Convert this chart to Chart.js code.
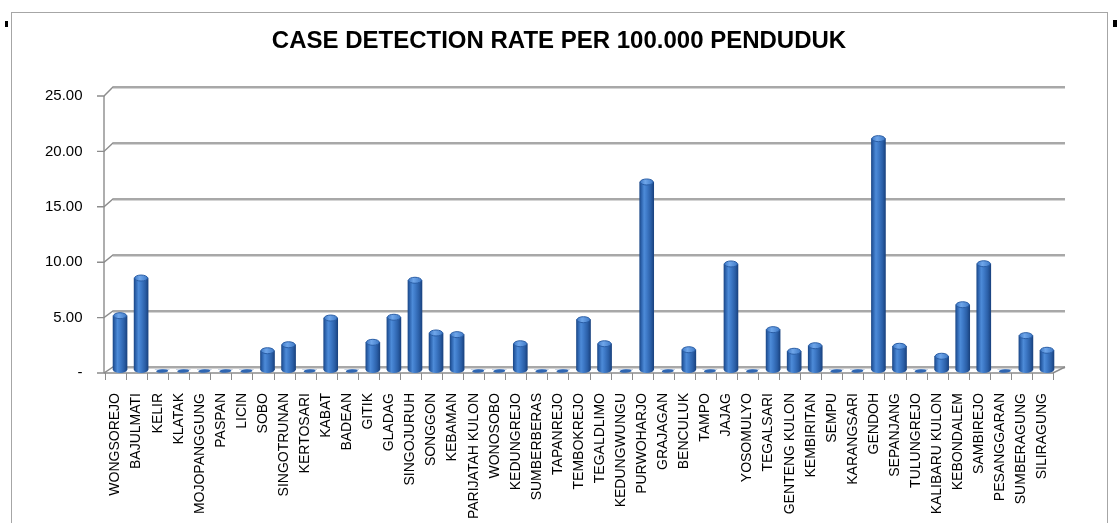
<!DOCTYPE html>
<html>
<head>
<meta charset="utf-8">
<script src="https://cdn.jsdelivr.net/npm/chart.js@4.4.1/dist/chart.umd.min.js"></script>
<style>
  html, body { margin: 0; padding: 0; background: #ffffff; }
  #wrap { position: relative; width: 1118px; height: 523px; }
</style>
</head>
<body>
<div id="wrap"><canvas id="c" width="1118" height="523"></canvas></div>
<script>
const chartTitle = 'CASE DETECTION RATE PER 100.000 PENDUDUK';

const categories = [
  'WONGSOREJO', 'BAJULMATI', 'KELIR', 'KLATAK', 'MOJOPANGGUNG', 'PASPAN', 'LICIN', 'SOBO',
  'SINGOTRUNAN', 'KERTOSARI', 'KABAT', 'BADEAN', 'GITIK', 'GLADAG', 'SINGOJURUH', 'SONGGON',
  'KEBAMAN', 'PARIJATAH KULON', 'WONOSOBO', 'KEDUNGREJO', 'SUMBERBERAS', 'TAPANREJO',
  'TEMBOKREJO', 'TEGALDLIMO', 'KEDUNGWUNGU', 'PURWOHARJO', 'GRAJAGAN', 'BENCULUK', 'TAMPO',
  'JAJAG', 'YOSOMULYO', 'TEGALSARI', 'GENTENG KULON', 'KEMBIRITAN', 'SEMPU', 'KARANGSARI',
  'GENDOH', 'SEPANJANG', 'TULUNGREJO', 'KALIBARU KULON', 'KEBONDALEM', 'SAMBIREJO',
  'PESANGGARAN', 'SUMBERAGUNG', 'SILIRAGUNG'
];

const rates = [
  4.90, 8.30, 0, 0, 0, 0, 0, 1.74,
  2.28, 0, 4.69, 0, 2.50, 4.76, 8.10, 3.34,
  3.19, 0, 0, 2.37, 0, 0,
  4.54, 2.37, 0, 16.97, 0, 1.83, 0,
  9.57, 0, 3.64, 1.69, 2.19, 0, 0,
  20.88, 2.14, 0, 1.24, 5.89, 9.59,
  0, 3.10, 1.78
];

const yTickValues = [0, 5, 10, 15, 20, 25];

function makeBodyGradient(ctx, cx, half) {
  const g = ctx.createLinearGradient(cx - half, 0, cx + half, 0);
  g.addColorStop(0.00, '#1d4a8a');
  g.addColorStop(0.12, '#2d63ad');
  g.addColorStop(0.32, '#4d8bd8');
  g.addColorStop(0.50, '#3f7bc9');
  g.addColorStop(0.80, '#2a5ea6');
  g.addColorStop(1.00, '#1a4380');
  return g;
}

function barGradient(context) {
  const chart = context.chart;
  const xs = chart.scales && chart.scales.x;
  if (!chart.chartArea || !xs || context.type !== 'data') return '#3a72c0';
  return makeBodyGradient(chart.ctx, xs.getPixelForValue(context.dataIndex), 7);
}

const framePlugin = {
  id: 'frame3d',
  beforeDraw(chart) {
    const ctx = chart.ctx;
    ctx.save();
    ctx.fillStyle = '#ffffff';
    ctx.fillRect(0, 0, chart.width, chart.height);
    ctx.strokeStyle = '#a6a6a6';
    ctx.lineWidth = 1;
    ctx.strokeRect(11.5, 12.5, 1096, 560);
    ctx.fillStyle = '#000000';
    ctx.fillRect(5, 21, 3, 6);
    ctx.fillRect(1113, 20, 4, 7);
    ctx.restore();
  },
  beforeDatasetsDraw(chart) {
    const ctx = chart.ctx;
    const xs = chart.scales.x, ys = chart.scales.y;
    const FX0 = xs.left - 5.5, FX1 = xs.right - 4.5;
    const BX0 = xs.left + 3.5, BX1 = xs.right + 7.5;
    const frontY = v => ys.getPixelForValue(v) + 3;
    const backY = v => ys.getPixelForValue(v) - 3 - v * 0.12;
    ctx.save();
    ctx.lineCap = 'butt';
    yTickValues.forEach(v => {
      const fy = frontY(v), by = backY(v);
      ctx.strokeStyle = '#d4d4d4';
      ctx.lineWidth = 1;
      ctx.beginPath();
      ctx.moveTo(BX0, by + 1.5);
      ctx.lineTo(BX1, by + 1.5);
      ctx.stroke();
      ctx.strokeStyle = '#8c8c8c';
      ctx.lineWidth = 1.4;
      ctx.beginPath();
      ctx.moveTo(FX0 - 7, fy);
      ctx.lineTo(FX0, fy);
      ctx.lineTo(BX0, by);
      ctx.lineTo(BX1, by);
      ctx.stroke();
    });
    ctx.strokeStyle = '#8c8c8c';
    ctx.lineWidth = 1.4;
    ctx.beginPath();
    ctx.moveTo(FX0, frontY(25));
    ctx.lineTo(FX0, frontY(0));
    ctx.stroke();
    ctx.beginPath();
    ctx.moveTo(FX0, frontY(0));
    ctx.lineTo(FX1, frontY(0));
    ctx.lineTo(BX1, backY(0));
    ctx.stroke();
    ctx.lineWidth = 1;
    ctx.strokeStyle = '#8c8c8c';
    const n = categories.length;
    for (let i = 0; i <= n; i++) {
      const xb = Math.round(xs.left + i * (xs.width / n) - 4.5) + 0.5;
      ctx.beginPath();
      ctx.moveTo(xb, frontY(0));
      ctx.lineTo(xb, frontY(0) + 7);
      ctx.stroke();
    }
    ctx.restore();
  },
  afterDatasetsDraw(chart) {
    const ctx = chart.ctx;
    const meta = chart.getDatasetMeta(0);
    ctx.save();
    meta.data.forEach((bar, i) => {
      const p = bar.getProps(['x', 'y', 'base', 'width'], true);
      const rx = p.width / 2;
      if (rates[i] > 0) {
        ctx.fillStyle = makeBodyGradient(ctx, p.x, rx);
        ctx.beginPath();
        ctx.ellipse(p.x, p.base, rx, 3, 0, 0, Math.PI * 2);
        ctx.fill();
        const top = ctx.createLinearGradient(p.x - rx, 0, p.x + rx, 0);
        top.addColorStop(0, '#3b75c2');
        top.addColorStop(0.4, '#6fa6ea');
        top.addColorStop(1, '#3c77c4');
        ctx.fillStyle = top;
        ctx.strokeStyle = '#2a5ea6';
        ctx.lineWidth = 1;
        ctx.beginPath();
        ctx.ellipse(p.x, p.y, rx - 0.5, 3, 0, 0, Math.PI * 2);
        ctx.fill();
        ctx.stroke();
      } else {
        ctx.fillStyle = '#2f66b2';
        ctx.beginPath();
        ctx.ellipse(p.x, p.base + 1, rx - 1, 1.8, -0.05, 0, Math.PI * 2);
        ctx.fill();
      }
    });
    ctx.restore();
  }
};

new Chart(document.getElementById('c'), {
  type: 'bar',
  data: {
    labels: categories,
    datasets: [{
      data: rates,
      backgroundColor: barGradient,
      borderWidth: 0,
      barThickness: 14
    }]
  },
  options: {
    responsive: false,
    animation: false,
    devicePixelRatio: 1,
    layout: { padding: { left: 0, right: 0, top: 0, bottom: 0 } },
    plugins: {
      legend: { display: false },
      tooltip: { enabled: false },
      title: {
        display: true,
        text: chartTitle,
        color: '#000000',
        font: { family: '"Liberation Sans", Arial, sans-serif', size: 24, weight: 'bold' },
        padding: { top: 26.6, bottom: 37.6 }
      }
    },
    scales: {
      x: {
        grid: { display: false },
        border: { display: false },
        afterFit(scale) { scale.height = 153; },
        ticks: {
          autoSkip: false,
          minRotation: 90,
          maxRotation: 90,
          padding: 15,
          labelOffset: -4.5,
          color: '#000000',
          font: { family: '"Liberation Sans", Arial, sans-serif', size: 14 }
        }
      },
      y: {
        min: 0,
        max: 25,
        grid: { display: false },
        border: { display: false },
        afterFit(scale) { scale.width = 109.5; },
        afterBuildTicks(scale) { scale.ticks = yTickValues.map(v => ({ value: v })); },
        ticks: {
          padding: 19,
          labelOffset: 3,
          color: '#000000',
          font: { family: '"Liberation Sans", Arial, sans-serif', size: 15 },
          callback: v => (v === 0 ? '-' : Number(v).toFixed(2))
        }
      },
      yRight: {
        position: 'right',
        min: 0,
        max: 25,
        grid: { display: false },
        border: { display: false },
        ticks: { display: false },
        afterFit(scale) { scale.width = 60.5; }
      }
    }
  },
  plugins: [framePlugin]
});
</script>
</body>
</html>
